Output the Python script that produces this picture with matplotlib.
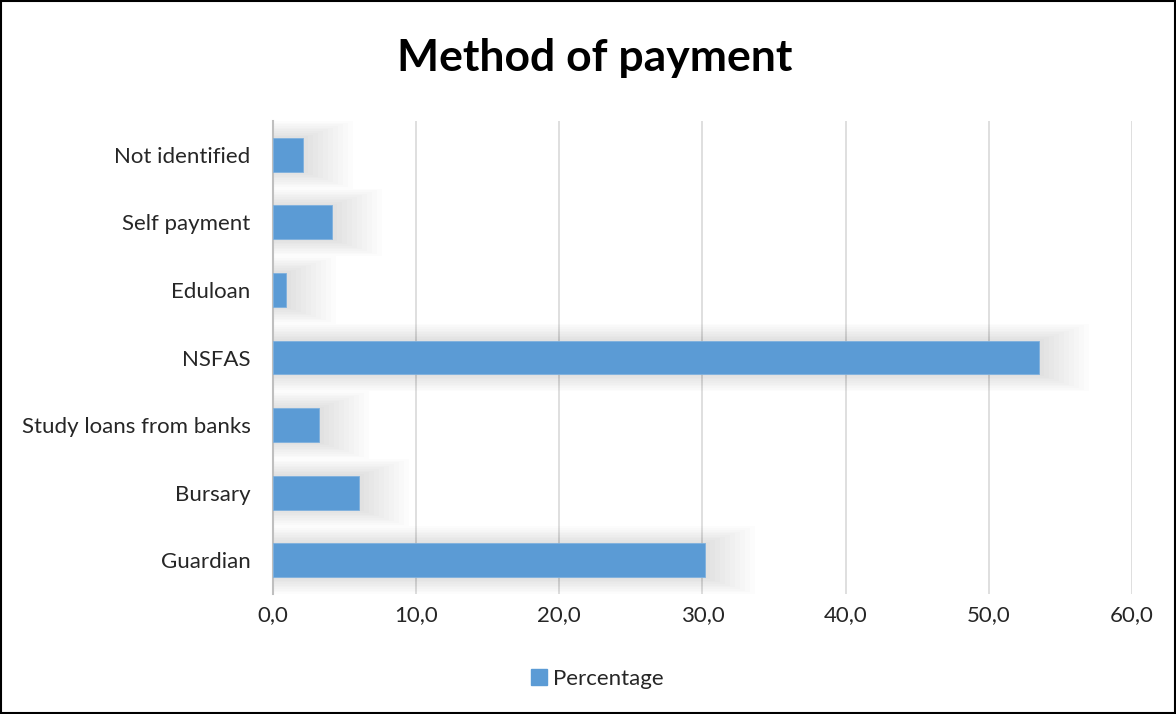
import numpy as np
import matplotlib
matplotlib.use('Agg')
import matplotlib.pyplot as plt
from matplotlib.ticker import FuncFormatter
from matplotlib.patches import Rectangle

plt.rcParams['font.family'] = ['Lato', 'DejaVu Sans']

categories = ['Guardian', 'Bursary', 'Study loans from banks', 'NSFAS',
              'Eduloan', 'Self payment', 'Not identified']
percentage = [30.2, 6.0, 3.2, 53.5, 0.9, 4.1, 2.1]
x_ticks = [0, 10, 20, 30, 40, 50, 60]

bar_color = '#5b9bd5'

fig = plt.figure(figsize=(11.76, 7.14), dpi=100)
ax = fig.add_axes([0.2321, 0.168, 0.7305, 0.6625])

y = np.arange(len(categories))

# soft shadow behind the bars
for k in range(10):
    ax.barh(y, np.array(percentage) + 0.35 * (k + 1), height=0.5 + 0.05 * (k + 1),
            left=0, color='black', alpha=0.011, linewidth=0, zorder=1)

ax.barh(y, percentage, height=0.5, color=bar_color, edgecolor='#7fb1de',
        linewidth=0.6, zorder=3, label='Percentage')

ax.set_xlim(0, 60)
ax.set_ylim(-0.5, len(categories) - 0.5)
ax.set_xticks(x_ticks)
ax.xaxis.set_major_formatter(FuncFormatter(lambda v, p: ('%.1f' % v).replace('.', ',')))
ax.set_yticks(y)
ax.set_yticklabels(categories)

ax.grid(axis='x', color='#d9d9d9', linewidth=1.2, zorder=0)
ax.set_axisbelow(True)
for s in ['top', 'right', 'bottom']:
    ax.spines[s].set_visible(False)
ax.spines['left'].set_color('#bfbfbf')
ax.spines['left'].set_linewidth(1.5)
ax.tick_params(axis='both', length=0, labelsize=16, colors='#262626')
ax.tick_params(axis='y', pad=16)
ax.tick_params(axis='x', pad=8)

fig.text(0.506, 0.919, 'Method of payment', ha='center', va='center',
         fontsize=32, fontweight='bold', color='black')

leg = fig.legend(handles=[Rectangle((0, 0), 1, 1, color=bar_color)], labels=['Percentage'],
                 loc='center', bbox_to_anchor=(0.508, 0.049), frameon=False,
                 fontsize=16, handlelength=0.7, handleheight=0.7, handletextpad=0.3)
for t in leg.get_texts():
    t.set_color('#262626')

border = Rectangle((0.001, 0.001), 0.998, 0.997, transform=fig.transFigure,
                   fill=False, edgecolor='black', linewidth=1.5)
fig.patches.append(border)

fig.savefig('out.png', dpi=100)
